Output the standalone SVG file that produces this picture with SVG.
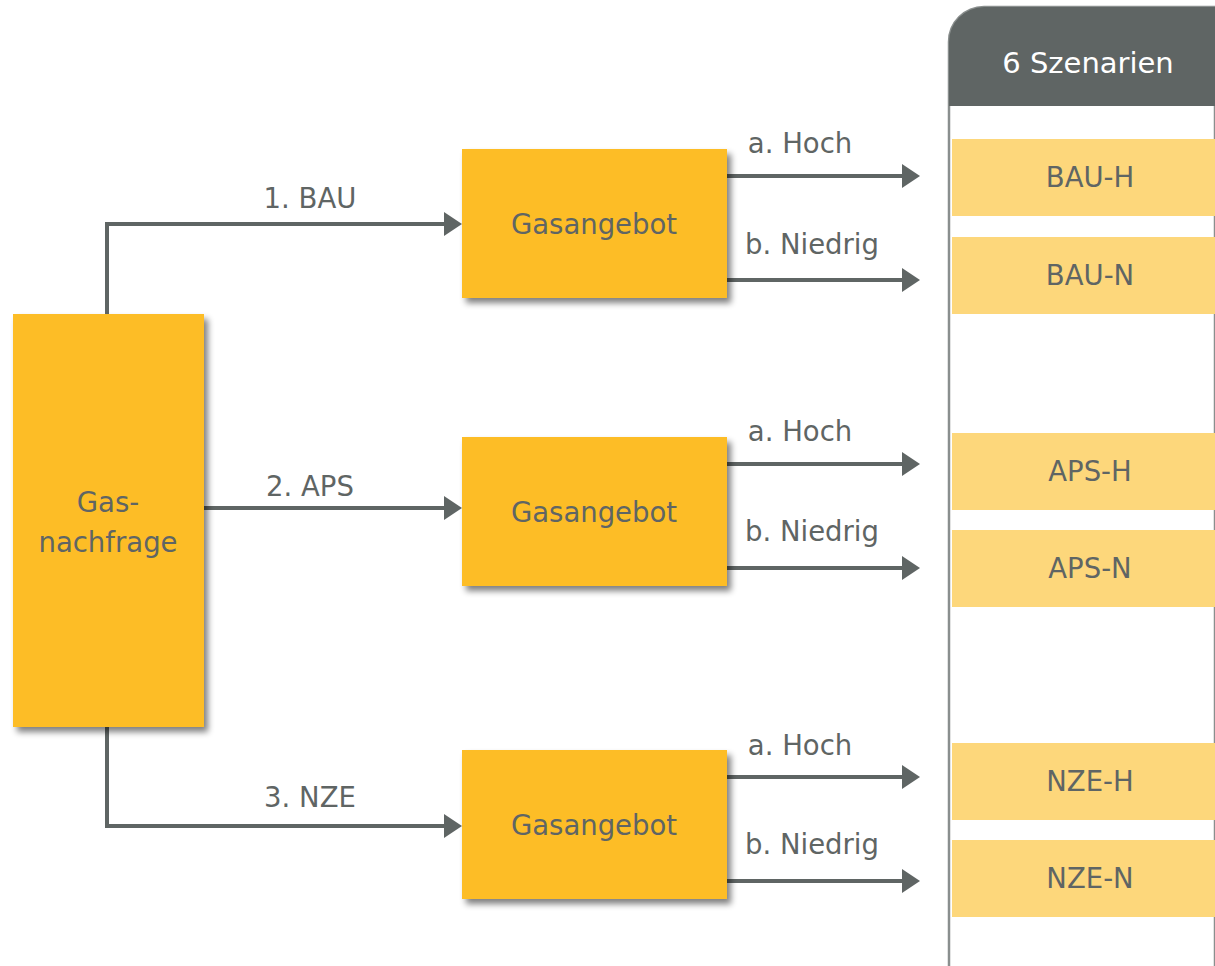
<svg xmlns="http://www.w3.org/2000/svg" width="1215" height="966" viewBox="0 0 1215 966">
<style>
text{font-family:"DejaVu Sans","Liberation Sans",sans-serif;fill:#5f6564;}
.t{font-size:27.5px;text-anchor:middle;}
.box{fill:#fdbd27;filter:url(#sh);}
.sc{fill:#fdd77b;}
.c{fill:none;stroke:#5f6564;stroke-width:4;}
</style>
<defs>
<filter id="sh" x="-10%" y="-10%" width="130%" height="130%">
<feGaussianBlur in="SourceAlpha" stdDeviation="3"/>
<feOffset dx="4" dy="5" result="b"/>
<feComponentTransfer><feFuncA type="linear" slope="0.5"/></feComponentTransfer>
<feMerge><feMergeNode/><feMergeNode in="SourceGraphic"/></feMerge>
</filter>
<marker id="ar" markerWidth="6" markerHeight="6" refX="1" refY="3" orient="auto" markerUnits="strokeWidth" viewBox="0 0 6 6">
<path d="M0,0 L4.5,3 L0,6 z" fill="#5f6564"/>
</marker>
</defs>

<g id="panel">
<path d="M949,966 V42 A35,35 0 0 1 984,7 H1215 V966" fill="#fff" stroke="#8a8f8e" stroke-width="2.5"/>
<path d="M949,106 V42 A35,35 0 0 1 984,7 H1215 V106 Z" fill="#5f6564"/>
<text x="1088" y="73" class="t" style="fill:#fff;font-size:29px">6 Szenarien</text>
</g>

<g id="connectors">
<path class="c" d="M107,314 V224 H448" marker-end="url(#ar)"/>
<path class="c" d="M204,508 H448" marker-end="url(#ar)"/>
<path class="c" d="M107,727 V826 H448" marker-end="url(#ar)"/>
<path class="c" d="M727,176 H906" marker-end="url(#ar)"/>
<path class="c" d="M727,280 H906" marker-end="url(#ar)"/>
<path class="c" d="M727,464 H906" marker-end="url(#ar)"/>
<path class="c" d="M727,568 H906" marker-end="url(#ar)"/>
<path class="c" d="M727,777 H906" marker-end="url(#ar)"/>
<path class="c" d="M727,881 H906" marker-end="url(#ar)"/>
<text x="310" y="208" class="t">1. BAU</text>
<text x="310" y="496" class="t">2. APS</text>
<text x="310" y="807" class="t">3. NZE</text>
<text x="800" y="153" class="t">a. Hoch</text>
<text x="812" y="254" class="t">b. Niedrig</text>
<text x="800" y="441" class="t">a. Hoch</text>
<text x="812" y="541" class="t">b. Niedrig</text>
<text x="800" y="755" class="t">a. Hoch</text>
<text x="812" y="854" class="t">b. Niedrig</text>
</g>

<g id="gasnachfrage">
<rect class="box" x="13" y="314" width="191" height="413"/>
<text x="108" y="512" class="t">Gas-</text>
<text x="108" y="552" class="t">nachfrage</text>
</g>

<g id="gasangebot-1">
<rect class="box" x="462" y="149" width="265" height="149"/>
<text x="594" y="234" class="t">Gasangebot</text>
</g>
<g id="gasangebot-2">
<rect class="box" x="462" y="437" width="265" height="149"/>
<text x="594" y="522" class="t">Gasangebot</text>
</g>
<g id="gasangebot-3">
<rect class="box" x="462" y="750" width="265" height="149"/>
<text x="594" y="835" class="t">Gasangebot</text>
</g>

<g id="bau-h"><rect class="sc" x="952" y="139" width="263" height="77"/><text x="1090" y="187" class="t">BAU-H</text></g>
<g id="bau-n"><rect class="sc" x="952" y="237" width="263" height="77"/><text x="1090" y="285" class="t">BAU-N</text></g>
<g id="aps-h"><rect class="sc" x="952" y="433" width="263" height="77"/><text x="1090" y="481" class="t">APS-H</text></g>
<g id="aps-n"><rect class="sc" x="952" y="530" width="263" height="77"/><text x="1090" y="578" class="t">APS-N</text></g>
<g id="nze-h"><rect class="sc" x="952" y="743" width="263" height="77"/><text x="1090" y="791" class="t">NZE-H</text></g>
<g id="nze-n"><rect class="sc" x="952" y="840" width="263" height="77"/><text x="1090" y="888" class="t">NZE-N</text></g>
</svg>
